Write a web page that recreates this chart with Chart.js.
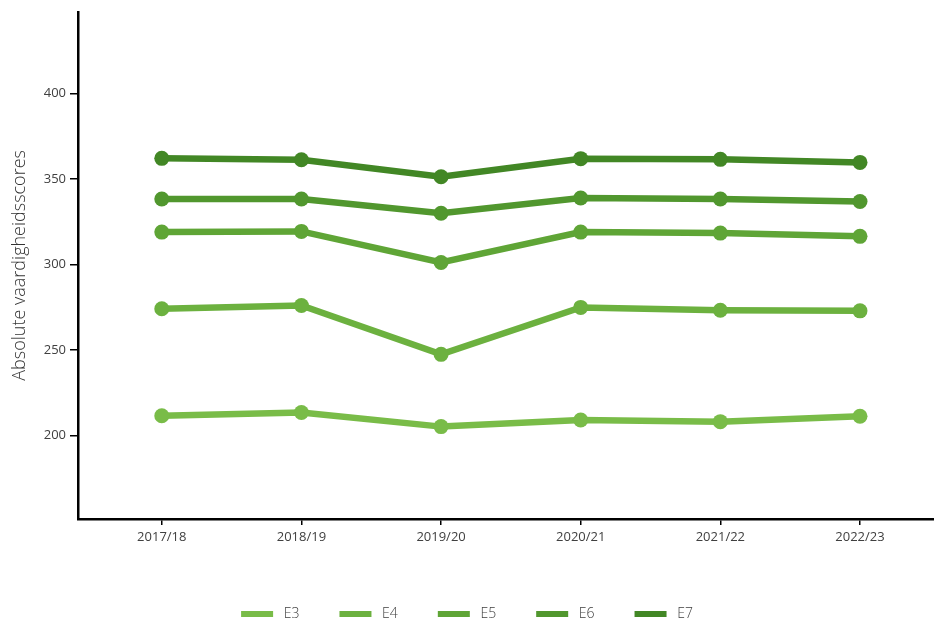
<!DOCTYPE html>
<html>
<head>
<meta charset="utf-8">
<script src="https://cdn.jsdelivr.net/npm/chart.js@4/dist/chart.umd.min.js"></script>
<style>
  html, body { margin: 0; padding: 0; background: #ffffff; overflow: hidden; }
  #wrap { width: 934px; height: 624px; position: relative; }
</style>
</head>
<body>
<div id="wrap"><canvas id="c" width="934" height="624"></canvas></div>
<script>
// ---- data ----
const years = ['2017/18', '2018/19', '2019/20', '2020/21', '2021/22', '2022/23'];
const seriesNames = ['E3', 'E4', 'E5', 'E6', 'E7'];
const E3 = [211.5, 213.4, 205.1, 209.0, 208.0, 211.2];
const E4 = [274.1, 276.0, 247.4, 274.9, 273.2, 272.9];
const E5 = [319.0, 319.4, 301.2, 319.0, 318.4, 316.5];
const E6 = [338.4, 338.4, 330.0, 339.0, 338.4, 336.9];
const E7 = [362.2, 361.4, 351.4, 362.0, 361.6, 359.8];
const yTickValues = [200, 250, 300, 350, 400];
const colors = ['#79bc48', '#6cb13f', '#5fa536', '#51972e', '#428725'];

const seriesValues = [E3, E4, E5, E6, E7];
const datasets = seriesNames.map((name, i) => ({
  label: name,
  data: seriesValues[i].map((v, j) => ({ x: j, y: v })),
  borderColor: colors[i],
  backgroundColor: colors[i],
  borderWidth: 6.5,
  pointRadius: 7.5,
  pointBorderWidth: 0,
  pointBackgroundColor: colors[i],
  tension: 0,
  clip: false
}));

const FONT = "'Open Sans', 'DejaVu Sans', sans-serif";
const TXT = '#404040';

new Chart(document.getElementById('c'), {
  type: 'line',
  data: { datasets },
  options: {
    responsive: false,
    animation: false,
    layout: { autoPadding: false, padding: { left: 0, right: 0, top: 8, bottom: -7 } },
    plugins: {
      tooltip: { enabled: false },
      legend: {
        display: true,
        position: 'bottom',
        align: 'center',
        labels: {
          boxWidth: 32,
          boxHeight: 6,
          padding: 40,
          color: TXT,
          font: { family: FONT, size: 14, weight: '300' },
          generateLabels: (chart) => chart.data.datasets.map((d, i) => ({
            text: ' ' + d.label,
            fillStyle: d.borderColor,
            strokeStyle: d.borderColor,
            lineWidth: 0,
            hidden: false,
            datasetIndex: i,
            fontColor: TXT
          }))
        }
      }
    },
    scales: {
      x: {
        type: 'linear',
        min: -0.6,
        max: 5.53,
        afterBuildTicks: (scale) => { scale.ticks = years.map((_, i) => ({ value: i })); },
        afterFit: (scale) => { scale.height = 48; },
        border: { display: true, color: '#000000', width: 2.5 },
        grid: { drawOnChartArea: false, drawTicks: true, tickLength: 6, color: '#000000', lineWidth: 1.5 },
        ticks: {
          autoSkip: false,
          maxRotation: 0,
          padding: 4,
          color: TXT,
          font: { family: FONT, size: 13, weight: '400' },
          callback: (v) => years[v]
        }
      },
      y: {
        type: 'linear',
        min: 151,
        max: 448,
        afterBuildTicks: (scale) => { scale.ticks = yTickValues.map(v => ({ value: v })); },
        afterFit: (scale) => { scale.width = 78; },
        border: { display: true, color: '#000000', width: 2.5 },
        grid: { drawOnChartArea: false, drawTicks: true, tickLength: 8, color: '#000000', lineWidth: 1.5 },
        title: {
          display: true,
          text: 'Absolute vaardigheidsscores',
          color: '#333333',
          font: { family: FONT, size: 18, weight: '300' },
          padding: { top: 9, bottom: 4 }
        },
        ticks: {
          padding: 4,
          color: TXT,
          font: { family: FONT, size: 13, weight: '400' }
        }
      }
    }
  }
});
</script>
</body>
</html>
